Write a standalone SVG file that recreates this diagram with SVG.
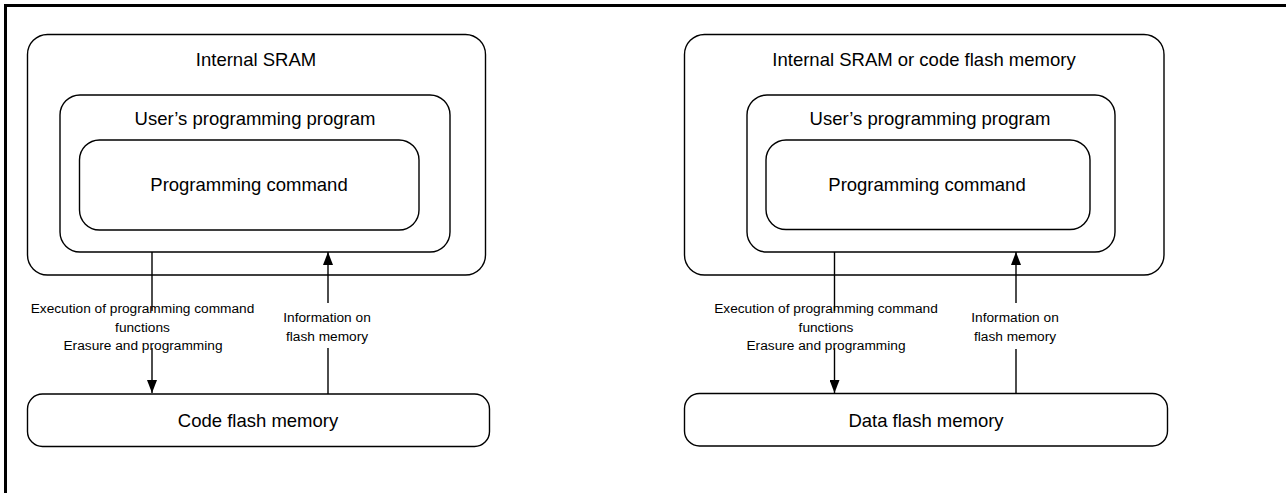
<svg xmlns="http://www.w3.org/2000/svg" width="1286" height="493" viewBox="0 0 1286 493">
<style>
.box{fill:#fff;stroke:#000;stroke-width:1.4}
.t{font-family:"Liberation Sans",Arial,sans-serif;font-size:18.5px;fill:#000;text-anchor:middle}
.s{font-family:"Liberation Sans",Arial,sans-serif;font-size:13.7px;fill:#000;text-anchor:middle}
.c{stroke:#000;stroke-width:1.4;fill:none}
.frame{stroke:#000;stroke-width:3;fill:none}
</style>
<defs>
<marker id="arr" viewBox="0 0 13 10" refX="13" refY="5" markerWidth="13" markerHeight="10" markerUnits="userSpaceOnUse" orient="auto">
<path d="M0,0 L13,5 L0,10 z" fill="#000"/>
</marker>
</defs>
<rect width="1286" height="493" fill="#fff"/>
<path class="frame" d="M5.5,493 V5.5 H1286"/>

<g id="left-sram">
<rect class="box" x="27.5" y="34.5" width="458" height="240.5" rx="20"/>
<text class="t" x="256" y="65.5">Internal SRAM</text>
</g>
<g id="left-program">
<rect class="box" x="60" y="95" width="390" height="157" rx="20"/>
<text class="t" x="255" y="124.5">User’s programming program</text>
</g>
<g id="left-command">
<rect class="box" x="79.5" y="140" width="339.5" height="90" rx="20"/>
<text class="t" x="249" y="191">Programming command</text>
</g>
<g id="code-flash">
<rect class="box" x="27.5" y="394" width="462" height="52.5" rx="15"/>
<text class="t" x="258" y="426.5">Code flash memory</text>
</g>

<g id="right-sram">
<rect class="box" x="684.5" y="34.5" width="479.5" height="240.5" rx="20"/>
<text class="t" x="924" y="65.5">Internal SRAM or code flash memory</text>
</g>
<g id="right-program">
<rect class="box" x="747" y="95" width="368" height="157" rx="20"/>
<text class="t" x="930" y="124.5">User’s programming program</text>
</g>
<g id="right-command">
<rect class="box" x="766" y="140" width="324" height="89.5" rx="20"/>
<text class="t" x="927" y="191">Programming command</text>
</g>
<g id="data-flash">
<rect class="box" x="684.5" y="393.5" width="483" height="52.5" rx="15"/>
<text class="t" x="926" y="426.5">Data flash memory</text>
</g>

<g id="connectors">
<line class="c" x1="152" y1="252" x2="152" y2="311"/>
<line class="c" x1="152" y1="348" x2="152" y2="393" marker-end="url(#arr)"/>
<line class="c" x1="328" y1="394" x2="328" y2="348"/>
<line class="c" x1="328" y1="303" x2="328" y2="252" marker-end="url(#arr)"/>
<line class="c" x1="834.5" y1="252" x2="834.5" y2="311"/>
<line class="c" x1="834.5" y1="348" x2="834.5" y2="393" marker-end="url(#arr)"/>
<line class="c" x1="1016" y1="393.5" x2="1016" y2="349"/>
<line class="c" x1="1016" y1="303" x2="1016" y2="252" marker-end="url(#arr)"/>
<g id="labels">
<text class="s" x="142.5" y="313">Execution of programming command</text>
<text class="s" x="142.5" y="331.5">functions</text>
<text class="s" x="143" y="350">Erasure and programming</text>
<text class="s" x="327" y="321.5">Information on</text>
<text class="s" x="327" y="340.5">flash memory</text>
<text class="s" x="826" y="313">Execution of programming command</text>
<text class="s" x="826" y="331.5">functions</text>
<text class="s" x="826" y="350">Erasure and programming</text>
<text class="s" x="1015" y="321.5">Information on</text>
<text class="s" x="1015" y="340.5">flash memory</text>
</g>
</g>
</svg>
